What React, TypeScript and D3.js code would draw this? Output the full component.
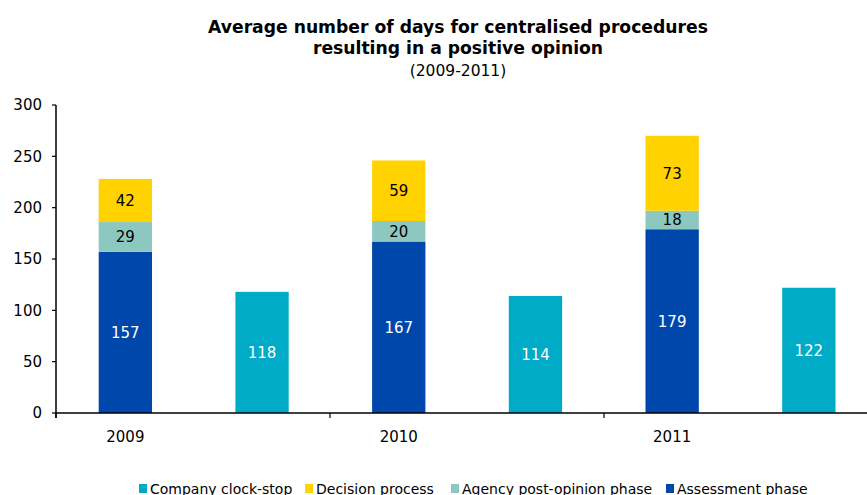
import React from 'react';
import * as d3 from 'd3';

const years = ['2009', '2010', '2011'];
const assessment = [157, 167, 179];
const postOpinion = [29, 20, 18];
const decision = [42, 59, 73];
const clockStop = [118, 114, 122];
const yTicks = [0, 50, 100, 150, 200, 250, 300];
const seriesNames = ['Assessment phase', 'Agency post-opinion phase', 'Decision process'];
const legendLabels = ['Company clock-stop', 'Decision process', 'Agency post-opinion phase', 'Assessment phase'];

const COLORS: Record<string, string> = {
  'Assessment phase': '#0047AB',
  'Agency post-opinion phase': '#8DC8C0',
  'Decision process': '#FFD200',
  'Company clock-stop': '#00ABC7',
};
const LABEL_COLORS: Record<string, string> = {
  'Assessment phase': '#ffffff',
  'Agency post-opinion phase': '#000000',
  'Decision process': '#000000',
  'Company clock-stop': '#ffffff',
};

const W = 867;
const H = 495;
const FONT = '"DejaVu Sans", Verdana, sans-serif';

export default function App() {
  const x0 = 56;
  const yScale = d3.scaleLinear().domain([0, 300]).range([413, 105]);
  const slots: string[] = [];
  years.forEach((y) => {
    slots.push(y + '-main');
    slots.push(y + '-clock');
  });
  const xScale = d3
    .scaleBand<string>()
    .domain(slots)
    .range([x0 + 1, x0 + 1 + 6 * 136.7])
    .paddingInner(0.61)
    .paddingOuter(0.305);
  const bw = xScale.bandwidth();

  const rows = years.map((y, i) => ({
    year: y,
    'Assessment phase': assessment[i],
    'Agency post-opinion phase': postOpinion[i],
    'Decision process': decision[i],
  }));
  const stack = d3.stack<any>().keys(seriesNames)(rows);

  const groupScale = d3
    .scaleBand<string>()
    .domain(years)
    .range([x0, x0 + 3 * 274]);

  const legendX = [139, 305, 451, 666];

  return (
    <svg width={W} height={H} style={{ position: 'absolute', left: 0, top: 0 }} fontFamily={FONT}>
      <rect width={W} height={H} fill="#ffffff" />
      {/* Title */}
      <text x={458} y={33} textAnchor="middle" fontWeight="bold" fontSize={17.2} fill="#000">
        Average number of days for centralised procedures
      </text>
      <text x={458} y={54} textAnchor="middle" fontWeight="bold" fontSize={17.2} fill="#000">
        resulting in a positive opinion
      </text>
      <text x={458} y={76} textAnchor="middle" fontSize={15.5} fill="#000">
        (2009-2011)
      </text>

      {/* Stacked bars */}
      {stack.map((s) =>
        s.map((d, i) => {
          const xx = xScale(years[i] + '-main')!;
          const y1 = yScale(d[1]);
          const y0v = yScale(d[0]);
          const val = d[1] - d[0];
          return (
            <g key={s.key + i}>
              <rect x={xx} y={y1} width={bw} height={y0v - y1} fill={COLORS[s.key]} />
              <text
                x={xx + bw / 2}
                y={(y1 + y0v) / 2}
                dy="0.36em"
                textAnchor="middle"
                fontSize={15}
                fill={LABEL_COLORS[s.key]}
              >
                {val}
              </text>
            </g>
          );
        })
      )}
      {/* Clock-stop bars */}
      {clockStop.map((v, i) => {
        const xx = xScale(years[i] + '-clock')!;
        const y1 = yScale(v);
        const y0v = yScale(0);
        return (
          <g key={'cs' + i}>
            <rect x={xx} y={y1} width={bw} height={y0v - y1} fill={COLORS['Company clock-stop']} />
            <text
              x={xx + bw / 2}
              y={(y1 + y0v) / 2}
              dy="0.36em"
              textAnchor="middle"
              fontSize={15}
              fill="#ffffff"
            >
              {v}
            </text>
          </g>
        );
      })}

      {/* Y axis */}
      <line x1={x0} x2={x0} y1={yScale(300)} y2={yScale(0) + 5} stroke="#000" strokeWidth={1.5} />
      {yTicks.map((t) => (
        <g key={'yt' + t}>
          <line x1={x0 - 4} x2={x0} y1={yScale(t)} y2={yScale(t)} stroke="#000" strokeWidth={1.2} />
          <text x={42} y={yScale(t)} dy="0.36em" textAnchor="end" fontSize={15} fill="#000">
            {t}
          </text>
        </g>
      ))}

      {/* X axis */}
      <line x1={x0} x2={W} y1={yScale(0)} y2={yScale(0)} stroke="#000" strokeWidth={1.5} />
      {years.map((y) => (
        <line
          key={'xt' + y}
          x1={groupScale(y)!}
          x2={groupScale(y)!}
          y1={yScale(0)}
          y2={yScale(0) + 5}
          stroke="#000"
          strokeWidth={1.2}
        />
      ))}
      {years.map((y) => (
        <text
          key={'xl' + y}
          x={xScale(y + '-main')! + bw / 2}
          y={442}
          textAnchor="middle"
          fontSize={15}
          fill="#000"
        >
          {y}
        </text>
      ))}

      {/* Legend */}
      {legendLabels.map((l, i) => (
        <g key={'lg' + l}>
          <rect x={legendX[i]} y={484} width={8} height={9} fill={COLORS[l]} />
          <text x={legendX[i] + 11} y={494} fontSize={14} fill="#000">
            {l}
          </text>
        </g>
      ))}
    </svg>
  );
}
